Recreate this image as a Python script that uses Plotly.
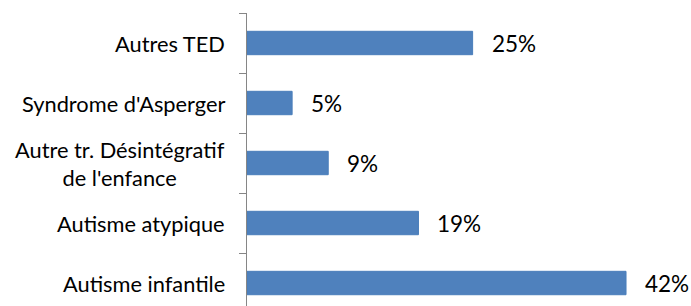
import plotly.graph_objects as go

categories = ["Autisme infantile", "Autisme atypique",
              "Autre tr. Désintégratif<br>de l'enfance",
              "Syndrome d'Asperger", "Autres TED"]
values = [42, 19, 9, 5, 25]
value_labels = ["42%", "19%", "9%", "5%", "25%"]

pos = list(range(len(categories)))
FONT = "Lato"

fig = go.Figure(go.Bar(
    x=values, y=pos, orientation="h", width=0.39,
    marker=dict(color="#4F81BD", line=dict(color="#4A7EBB", width=1)),
    hoverinfo="skip",
))

annotations = []
for p, c in zip(pos, categories):
    annotations.append(dict(x=227/691, xref="paper", y=p, yref="y", text=c,
                            xanchor="right", yanchor="middle", align="center",
                            showarrow=False,
                            font=dict(family=FONT, size=21.8, color="#000000")))
for p, v, t in zip(pos, values, value_labels):
    annotations.append(dict(x=v, xref="x", y=p, yref="y", text=t,
                            xanchor="left", yanchor="middle", xshift=17,
                            showarrow=False,
                            font=dict(family=FONT, size=22.5, color="#000000")))

fig.update_layout(
    width=691, height=306,
    margin=dict(l=0, r=0, t=13, b=0, autoexpand=False),
    paper_bgcolor="white", plot_bgcolor="white",
    showlegend=False,
    xaxis=dict(domain=[247/691, 1], range=[0, 49.2], visible=False,
               automargin=False),
    yaxis=dict(range=[-0.383, 4.5], tickvals=[0.5, 1.5, 2.5, 3.5, 4.5],
               ticktext=["", "", "", "", ""], ticks="outside", ticklen=7,
               tickcolor="#868686", tickwidth=1, automargin=False,
               showline=True, linecolor="#868686", linewidth=1,
               showgrid=False, zeroline=False),
    annotations=annotations,
)

fig.write_html(
    "out.html",
    config={"displayModeBar": False, "staticPlot": True},
    post_script="document.body.style.margin='0';document.body.style.overflow='hidden';",
)
